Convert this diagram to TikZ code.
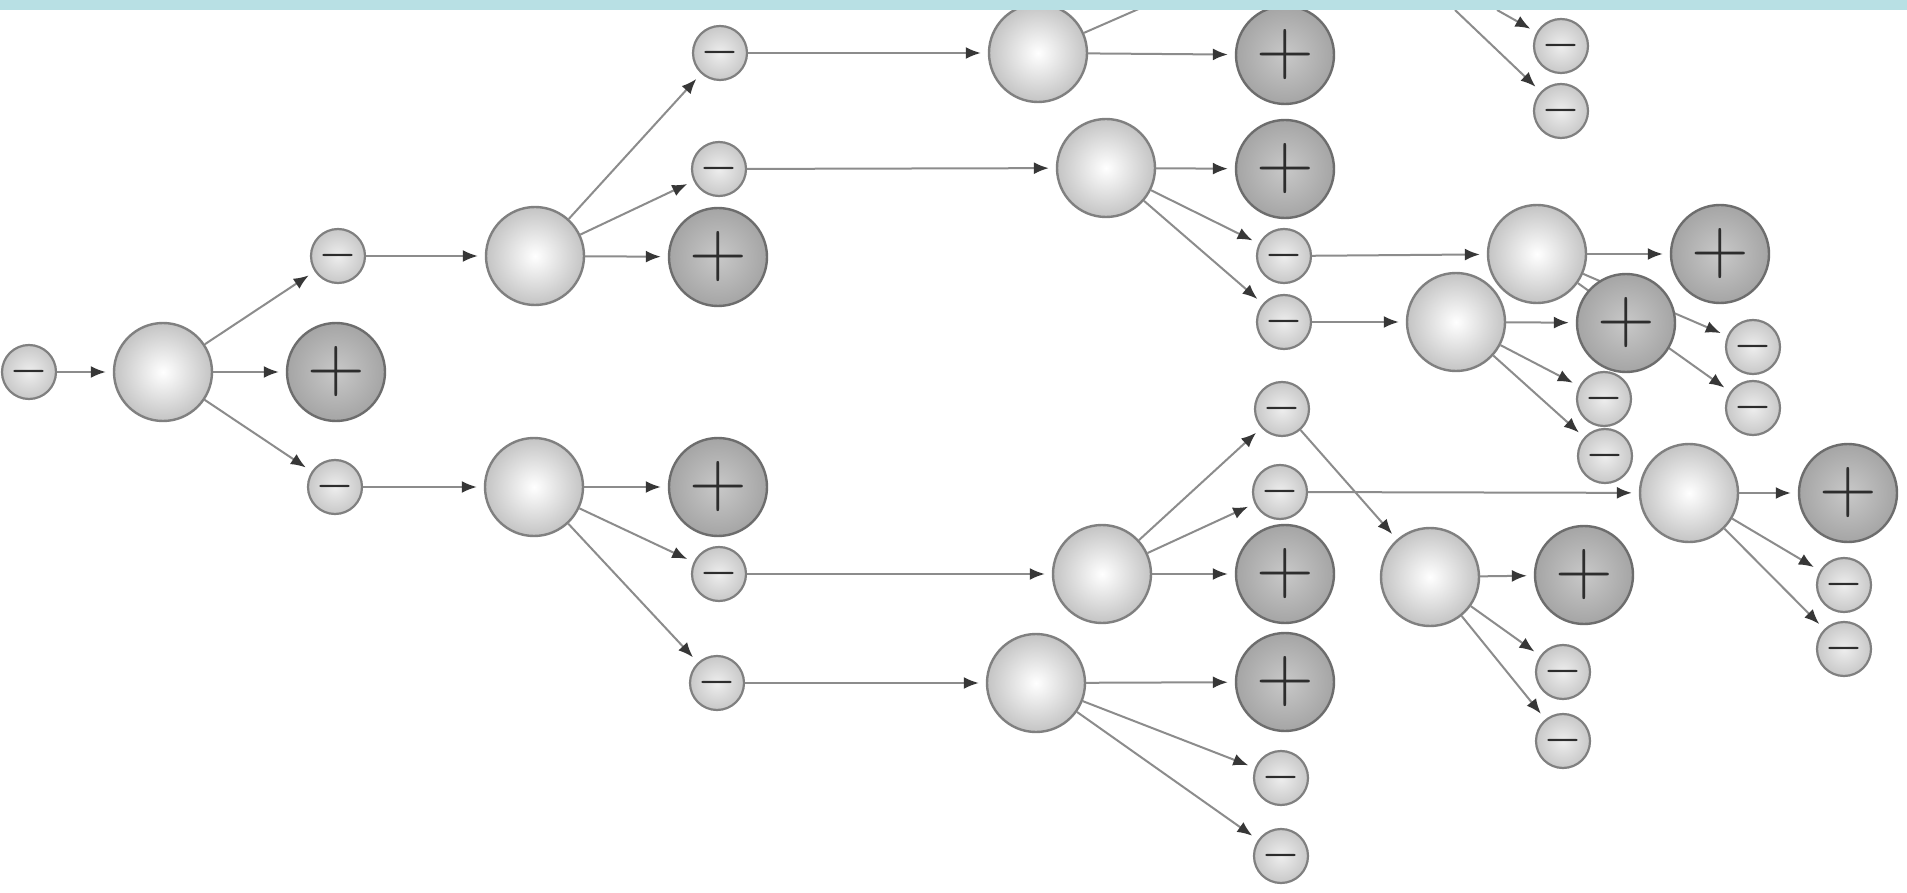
\documentclass[tikz,border=0pt]{standalone}
\usepackage{fontspec}
\usetikzlibrary{arrows.meta}
\definecolor{bandcol}{RGB}{184,224,228}
\definecolor{edgecol}{RGB}{140,140,140}
\definecolor{tipcol}{RGB}{55,55,55}
\definecolor{rimcol}{RGB}{128,128,128}
\definecolor{lightout}{RGB}{196,196,196}
\definecolor{plusin}{RGB}{200,200,200}
\definecolor{plusout}{RGB}{165,165,165}
\definecolor{minin}{RGB}{238,238,238}
\definecolor{minout}{RGB}{200,200,200}
\definecolor{signcol}{RGB}{45,45,45}
\pgfdeclarelayer{edges}
\pgfsetlayers{edges,main}
\begin{document}
\begin{tikzpicture}[x=1pt,y=-1pt,
  bigc/.style={circle,minimum size=98pt,inner sep=0pt,draw=rimcol,line width=2.4pt,inner color=white,outer color=lightout},
  plusc/.style={circle,minimum size=98pt,inner sep=0pt,draw=rimcol!85!black,line width=2.4pt,inner color=plusin,outer color=plusout,text=signcol,font=\fontsize{80}{80}\selectfont},
  minusc/.style={circle,minimum size=54pt,inner sep=0pt,draw=rimcol,line width=2.2pt,inner color=minin,outer color=minout,text=signcol,font=\fontsize{40}{40}\selectfont\bfseries},
  arr/.style={draw=edgecol,line width=2pt,-{Latex[length=15pt,width=12pt,color=tipcol]},shorten >=7pt},
  plainedge/.style={draw=edgecol,line width=2pt}]
\useasboundingbox (0,0) rectangle (1907,893);
% nodes
\node[minusc] (m0) at (29,372) {\vphantom{+}−};
\node[bigc] (C0) at (163,372) {};
\node[plusc] (P0) at (336,372) {+};
\node[minusc] (m1) at (338,256) {\vphantom{+}−};
\node[minusc] (m2) at (335,487) {\vphantom{+}−};
\node[bigc] (C1) at (535,256) {};
\node[bigc] (C2) at (534,487) {};
\node[minusc] (m3) at (720,53) {\vphantom{+}−};
\node[minusc] (m4) at (719,169) {\vphantom{+}−};
\node[plusc] (P1) at (718,257) {+};
\node[plusc] (P2) at (718,487) {+};
\node[minusc] (m5) at (719,574) {\vphantom{+}−};
\node[minusc] (m6) at (717,683) {\vphantom{+}−};
\node[bigc] (C3) at (1038,53) {};
\node[plusc] (P3) at (1285,55) {+};
\node[bigc] (C4) at (1106,168) {};
\node[plusc] (P4) at (1285,169) {+};
\node[minusc] (m7) at (1284,256) {\vphantom{+}−};
\node[minusc] (m8) at (1284,322) {\vphantom{+}−};
\node[minusc] (m9) at (1282,409) {\vphantom{+}−};
\node[minusc] (m10) at (1280,492) {\vphantom{+}−};
\node[bigc] (C5) at (1102,574) {};
\node[plusc] (P5) at (1285,574) {+};
\node[bigc] (C6) at (1036,683) {};
\node[plusc] (P6) at (1285,682) {+};
\node[minusc] (m11) at (1281,778) {\vphantom{+}−};
\node[minusc] (m12) at (1281,856) {\vphantom{+}−};
\node[minusc] (m13) at (1561,46) {\vphantom{+}−};
\node[minusc] (m14) at (1561,111) {\vphantom{+}−};
\node[bigc] (C7) at (1537,254) {};
\node[plusc] (P7) at (1720,254) {+};
\node[bigc] (C8) at (1456,322) {};
\node[plusc] (P8) at (1626,323) {+};
\node[minusc] (m15) at (1753,347) {\vphantom{+}−};
\node[minusc] (m16) at (1753,408) {\vphantom{+}−};
\node[minusc] (m17) at (1604,399) {\vphantom{+}−};
\node[minusc] (m18) at (1605,456) {\vphantom{+}−};
\node[bigc] (C9) at (1689,493) {};
\node[plusc] (P9) at (1848,493) {+};
\node[minusc] (m19) at (1844,585) {\vphantom{+}−};
\node[minusc] (m20) at (1844,649) {\vphantom{+}−};
\node[bigc] (C10) at (1430,577) {};
\node[plusc] (P10) at (1584,575) {+};
\node[minusc] (m21) at (1563,672) {\vphantom{+}−};
\node[minusc] (m22) at (1563,741) {\vphantom{+}−};
\coordinate (topC3) at (1150,4);
\coordinate (top13) at (1497,10);
\coordinate (top14) at (1455,10);
% edges
\begin{pgfonlayer}{edges}
\fill[white] (0,0) rectangle (1907,893);
\foreach \a/\b in {m0/C0,C0/m1,C0/P0,C0/m2,m1/C1,C1/m3,C1/m4,C1/P1,m2/C2,C2/P2,C2/m5,C2/m6,
  m3/C3,C3/P3,m4/C4,C4/P4,C4/m7,C4/m8,m7/C7,C7/P7,C7/m15,C7/m16,m8/C8,C8/P8,C8/m17,C8/m18,
  m5/C5,C5/m9,C5/m10,C5/P5,m6/C6,C6/P6,C6/m11,C6/m12,m9/C10,m10/C9,C9/P9,C9/m19,C9/m20,
  C10/P10,C10/m21,C10/m22,top13/m13,top14/m14}
  \draw[arr] (\a) -- (\b);
\draw[plainedge] (C3) -- (topC3);
\end{pgfonlayer}
\fill[bandcol] (0,0) rectangle (1907,10);
\end{tikzpicture}
\end{document}
